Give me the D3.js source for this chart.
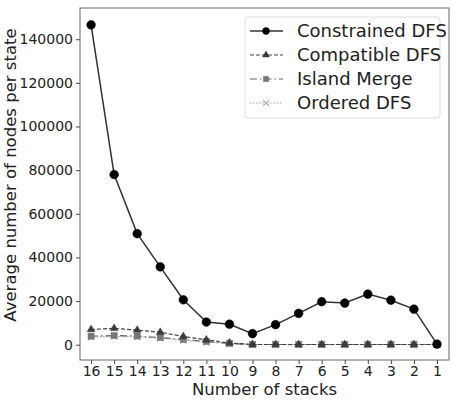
<!DOCTYPE html>
<html>
<head>
<meta charset="utf-8">
<style>
body { margin: 0; background: #fff; }
svg text { font-family: "DejaVu Sans", sans-serif; fill: #222; }
</style>
</head>
<body>
<svg width="458" height="400"></svg>
<script src="https://cdn.jsdelivr.net/npm/d3@7"></script>
<script>
// data
const stacks = [16, 15, 14, 13, 12, 11, 10, 9, 8, 7, 6, 5, 4, 3, 2, 1];
const constrainedDFS = [146600, 78000, 50900, 35700, 20600, 10400, 9400, 5100, 9200, 14400, 19700, 19100, 23200, 20400, 16300, 300];
const compatibleDFS = [7000, 7500, 6700, 5700, 3800, 2200, 800, 100, 100, 100, 100, 100, 100, 100, 100, 100];
const islandMerge = [3900, 4200, 4000, 3300, 2400, 1500, 600, 100, 100, 100, 100, 100, 100, 100, 100, 100];
const orderedDFS = [3500, 3800, 3600, 3000, 2000, 1200, 500, 100, 100, 100, 100, 100, 100, 100, 100, 100];
const yTicks = [0, 20000, 40000, 60000, 80000, 100000, 120000, 140000];

const series = [
  { name: "Constrained DFS", values: constrainedDFS, color: "#000", line: "#333", dash: null, marker: "circle", width: 1.5 },
  { name: "Compatible DFS", values: compatibleDFS, color: "#3a3a3a", line: "#444", dash: "4,2", marker: "triangle", width: 1.2 },
  { name: "Island Merge", values: islandMerge, color: "#777", line: "#666", dash: "7,3,1.5,3", marker: "square", width: 1.2 },
  { name: "Ordered DFS", values: orderedDFS, color: "#aaa", line: "#aaa", dash: "1.5,1.5", marker: "cross", width: 1.2 }
];

const svg = d3.select("svg");
const m = { left: 80, right: 449, top: 8, bottom: 360 };

const x = d3.scaleLinear().domain([16.48, 0.48]).range([m.left, m.right]);
const y = d3.scaleLinear().domain([-7000, 154300]).range([m.bottom, m.top]);

// axes
const xAxis = d3.axisBottom(x).tickValues(stacks).tickFormat(d3.format("d")).tickSize(4).tickPadding(2);
const yAxis = d3.axisLeft(y).tickValues(yTicks).tickFormat(d3.format("d")).tickSize(4).tickPadding(3);

const gx = svg.append("g").attr("transform", `translate(0,${m.bottom})`).call(xAxis);
const gy = svg.append("g").attr("transform", `translate(${m.left},0)`).call(yAxis);
[gx, gy].forEach(g => {
  g.select(".domain").remove();
  g.selectAll(".tick line").attr("stroke", "#444");
  g.selectAll(".tick text").attr("font-size", 14).attr("fill", "#222").style("font-family", "DejaVu Sans");
});

// frame
svg.append("rect")
  .attr("x", m.left).attr("y", m.top)
  .attr("width", m.right - m.left).attr("height", m.bottom - m.top)
  .attr("fill", "none").attr("stroke", "#666").attr("stroke-width", 1);

// marker sizes: plot / legend
const symbols = {
  circle: [d3.symbol(d3.symbolCircle, 60), d3.symbol(d3.symbolCircle, 38)],
  triangle: [d3.symbol(d3.symbolTriangle, 26), d3.symbol(d3.symbolTriangle, 20)],
  square: [d3.symbol(d3.symbolSquare, 38), d3.symbol(d3.symbolSquare, 28)],
  cross: [d3.symbol(d3.symbolX, 30), d3.symbol(d3.symbolX, 24)]
};

function drawMarker(g, s, px, py, k) {
  const p = g.append("path")
    .attr("d", symbols[s.marker][k]())
    .attr("transform", `translate(${px},${py})`);
  if (s.marker === "cross") p.attr("fill", "none").attr("stroke", s.color).attr("stroke-width", 1.1);
  else p.attr("fill", s.color).attr("stroke", s.color).attr("stroke-width", 0.5);
}

const line = d3.line().x((d, i) => x(stacks[i])).y(d => y(d));

// draw from back to front so constrained DFS sits on top
series.slice().reverse().forEach(s => {
  const g = svg.append("g");
  g.append("path")
    .datum(s.values)
    .attr("d", line)
    .attr("fill", "none")
    .attr("stroke", s.line)
    .attr("stroke-width", s.width)
    .attr("stroke-dasharray", s.dash);
  s.values.forEach((v, i) => drawMarker(g, s, x(stacks[i]), y(v), 0));
});

// labels
svg.append("text")
  .attr("x", (m.left + m.right) / 2).attr("y", 395)
  .attr("text-anchor", "middle").attr("font-size", 16.5)
  .text("Number of stacks");

svg.append("text")
  .attr("transform", "translate(16,175) rotate(-90)")
  .attr("text-anchor", "middle").attr("font-size", 16.5)
  .text("Average number of nodes per state");

// legend
const lg = svg.append("g");
lg.append("rect")
  .attr("x", 245).attr("y", 17).attr("width", 195).attr("height", 101)
  .attr("rx", 3).attr("fill", "#fff").attr("stroke", "#ddd");

series.forEach((s, i) => {
  const ly = 31 + i * 24;
  lg.append("line")
    .attr("x1", 250).attr("x2", 283).attr("y1", ly).attr("y2", ly)
    .attr("stroke", s.line).attr("stroke-width", s.width)
    .attr("stroke-dasharray", s.dash);
  drawMarker(lg, s, 266, ly, 1);
  lg.append("text")
    .attr("x", 297).attr("y", ly).attr("dy", "0.35em")
    .attr("font-size", 18)
    .text(s.name);
});
</script>
</body>
</html>
